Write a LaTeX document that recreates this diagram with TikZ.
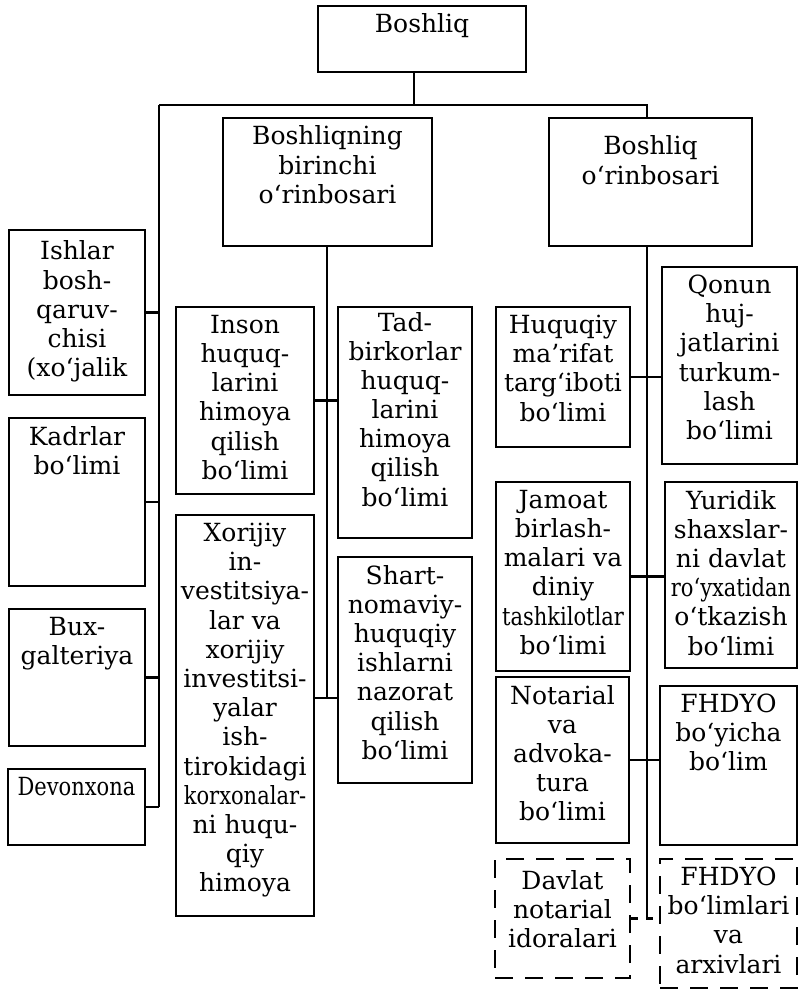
\documentclass[tikz,border=0pt]{standalone}
\usepackage{fontspec}
\setmainfont{DejaVu Serif}
\newcommand{\nrw}[1]{\scalebox{0.84}[1]{#1}}

\begin{document}
\begin{tikzpicture}[x=1pt, y=-1pt, line width=2.7pt,
    box/.style={draw, line width=2.7pt, inner sep=0pt},
    dbox/.style={box, dash pattern=on 18pt off 12pt},
    lbl/.style={anchor=north, align=center, inner sep=8pt,
      font=\fontsize{25}{29.2}\selectfont}]
    \useasboundingbox (0,0) rectangle (801,990);

    % top levels
    \node[box, minimum width=208pt, minimum height=66pt, label={[lbl]north:{Boshliq}}] (boss) at (422,39) {};
    \node[box, minimum width=209pt, minimum height=128pt, label={[lbl]north:{Boshliqning\\birinchi\\o‘rinbosari}}] (birinchi) at (327.5,182) {};
    \node[box, minimum width=203pt, minimum height=128pt, label={[lbl,yshift=-10pt]north:{Boshliq\\o‘rinbosari}}] (orinb) at (650.5,182) {};

    % left column
    \node[box, minimum width=136pt, minimum height=165pt, label={[lbl,yshift=-3pt]north:{Ishlar\\bosh-\\qaruv-\\chisi\\(xo‘jalik}}] (ishlar) at (77,312.5) {};
    \node[box, minimum width=136pt, minimum height=168pt, label={[lbl]north:{Kadrlar\\bo‘limi}}] (kadr) at (77,502) {};
    \node[box, minimum width=136pt, minimum height=137pt, label={[lbl]north:{Bux-\\galteriya}}] (bux) at (77,677.5) {};
    \node[box, minimum width=137pt, minimum height=76pt, label={[lbl]north:{\nrw{Devonxona}}}] (devon) at (76.5,807) {};

    % middle
    \node[box, minimum width=138pt, minimum height=187pt, label={[lbl]north:{Inson\\huquq-\\larini\\himoya\\qilish\\bo‘limi}}] (inson) at (245,400.5) {};
    \node[box, minimum width=134pt, minimum height=231pt, label={[lbl,yshift=3pt]north:{Tad-\\birkorlar\\huquq-\\larini\\himoya\\qilish\\bo‘limi}}] (tadbir) at (405,422.5) {};
    \node[box, minimum width=138pt, minimum height=401pt, label={[lbl]north:{Xorijiy\\in-\\vestitsiya-\\lar va\\xorijiy\\investitsi-\\yalar\\ish-\\tirokidagi\\\nrw{korxonalar-}\\ni huqu-\\qiy\\himoya}}] (xorijiy) at (245,715.5) {};
    \node[box, minimum width=134pt, minimum height=226pt, label={[lbl]north:{Shart-\\nomaviy-\\huquqiy\\ishlarni\\nazorat\\qilish\\bo‘limi}}] (shart) at (405,670) {};

    % right
    \node[box, minimum width=134pt, minimum height=140pt, label={[lbl]north:{Huquqiy\\ma’rifat\\targ‘iboti\\bo‘limi}}] (huquqiy) at (563,377) {};
    \node[box, minimum width=135pt, minimum height=197pt, label={[lbl]north:{Qonun\\huj-\\jatlarini\\turkum-\\lash\\bo‘limi}}] (qonun) at (729.5,365.5) {};
    \node[box, minimum width=134pt, minimum height=189pt, label={[lbl]north:{Jamoat\\birlash-\\malari va\\diniy\\\nrw{tashkilotlar}\\bo‘limi}}] (jamoat) at (563,576.5) {};
    \node[box, minimum width=132pt, minimum height=186pt, label={[lbl]north:{Yuridik\\shaxslar-\\ni davlat\\\nrw{ro‘yxatidan}\\o‘tkazish\\bo‘limi}}] (yuridik) at (731,575) {};
    \node[box, minimum width=133pt, minimum height=166pt, label={[lbl]north:{Notarial\\va\\advoka-\\tura\\bo‘limi}}] (notarial) at (562.5,760) {};
    \node[box, minimum width=137pt, minimum height=159pt, label={[lbl]north:{FHDYO\\bo‘yicha\\bo‘lim}}] (fhdyo) at (728.5,765.5) {};
    \node[dbox, minimum width=135pt, minimum height=119pt, label={[lbl,yshift=-3pt]north:{Davlat\\notarial\\idoralari}}] (davlat) at (562.5,918.5) {};
    \node[dbox, minimum width=137pt, minimum height=129pt, label={[lbl]north:{FHDYO\\bo‘limlari\\va\\arxivlari}}] (arxiv) at (728.5,923.5) {};

    % buses
    \coordinate (t) at (414,105);
    \coordinate (lt) at (159,105);
    \coordinate (rt) at (647,105);
    \coordinate (mj) at (327,698);
    \draw (boss.south -| t) -- (t);
    \draw (lt) -- (rt) -- (rt |- orinb.north);
    \draw (lt) -- (lt |- devon.east);
    \foreach \n in {ishlar,kadr,bux,devon}
        \draw (\n.east) -- (\n.east -| lt);
    \draw (birinchi.south -| mj) -- (mj);
    \draw (inson.east) -- (inson.east -| tadbir.west);
    \draw (xorijiy.east |- mj) -- (mj -| shart.west);
    \draw (orinb.south -| rt) -- (rt |- davlat.east);
    \draw (huquqiy.east) -- (huquqiy.east -| qonun.west);
    \draw (jamoat.east) -- (jamoat.east -| yuridik.west);
    \draw (notarial.east) -- (notarial.east -| fhdyo.west);
    \draw[dash pattern=on 7pt off 8pt] (davlat.east) -- (davlat.east -| arxiv.west);

\end{tikzpicture}
\end{document}
